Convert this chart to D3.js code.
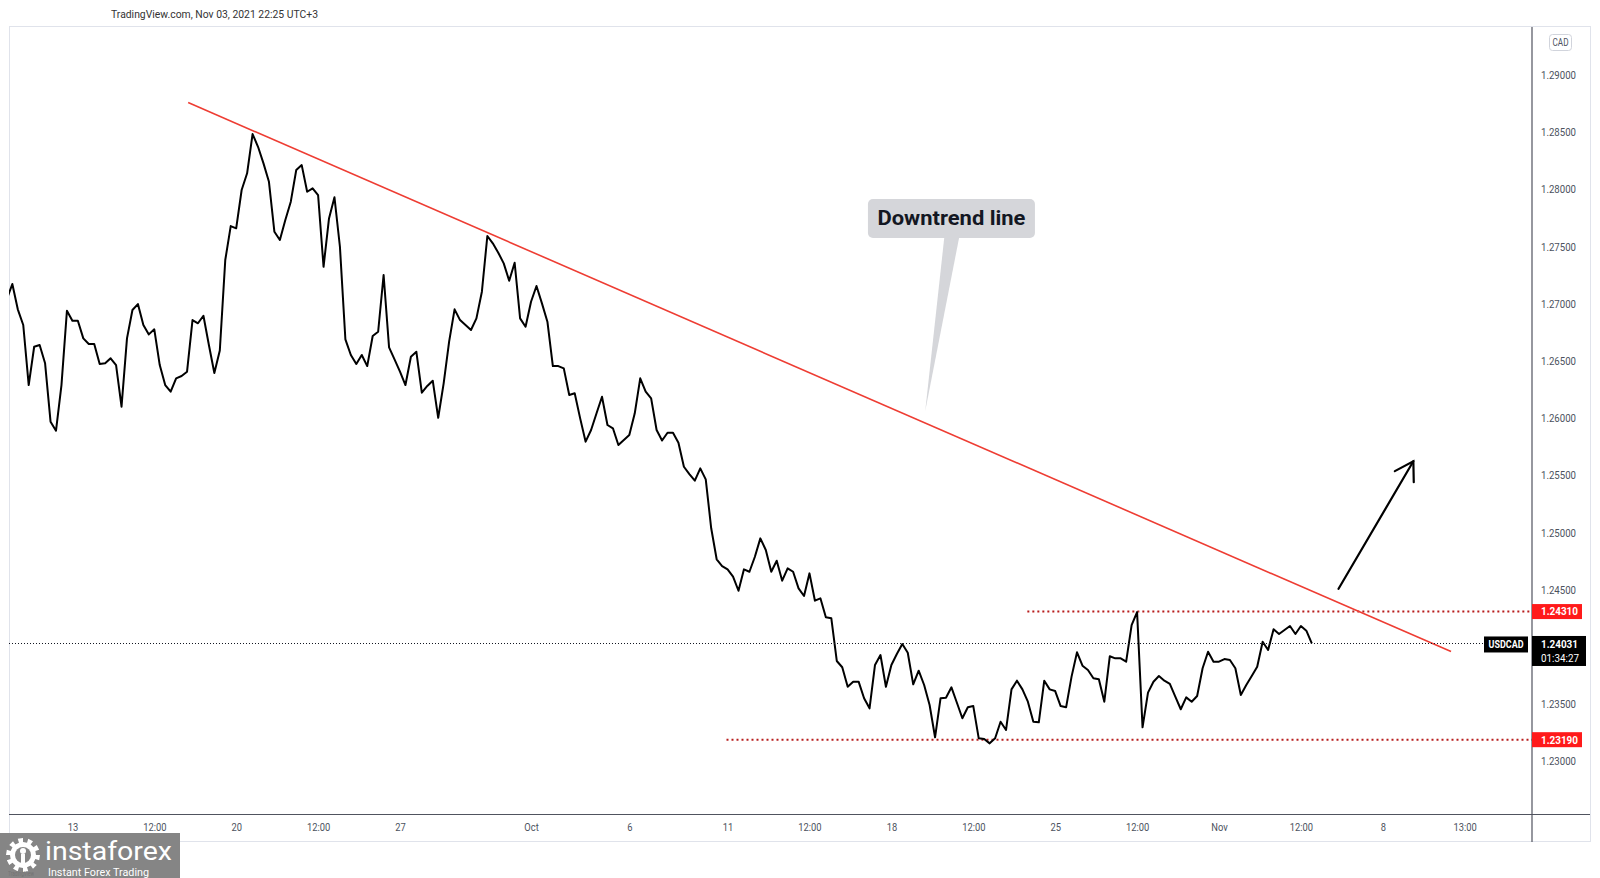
<!DOCTYPE html>
<html>
<head>
<meta charset="utf-8">
<script src="https://cdn.jsdelivr.net/npm/d3@7"></script>
<style>
  html, body { margin: 0; padding: 0; background: #ffffff; }
  svg { display: block; }
  .ax { font-family: Roboto, "Liberation Sans", sans-serif; font-size: 11px; fill: #4c525e; }
</style>
</head>
<body>
<svg id="chart" width="1600" height="878"></svg>
<script>
// ---------- data (USDCAD, 4-hour closes) ----------
const FIRST_BAR = -12; // bar index of closes[0]; bar 0 = Sep 13 00:00
const closes = [
  1.27042, 1.27173, 1.26952, 1.26815, 1.26290, 1.26625, 1.26640, 1.26480, 1.25970, 1.25891,
  1.26290, 1.26940, 1.26852, 1.26852, 1.26698, 1.26649, 1.26649, 1.26474, 1.26480, 1.26524,
  1.26465, 1.26101, 1.26698, 1.26946, 1.26998, 1.26815, 1.26733, 1.26777, 1.26465, 1.26290,
  1.26232, 1.26349, 1.26369, 1.26407, 1.26858, 1.26830, 1.26896, 1.26640, 1.26395, 1.26592,
  1.27383, 1.27680, 1.27660, 1.27995, 1.28141, 1.28484, 1.28373, 1.28228, 1.28067, 1.27630,
  1.27558, 1.27733, 1.27893, 1.28170, 1.28213, 1.27980, 1.28010, 1.27951, 1.27324, 1.27747,
  1.27931, 1.27499, 1.26690, 1.26553, 1.26474, 1.26553, 1.26456, 1.26719, 1.26756, 1.27252,
  1.26620, 1.26515, 1.26407, 1.26290, 1.26538, 1.26581, 1.26223, 1.26282, 1.26328, 1.26004,
  1.26305, 1.26669, 1.26952, 1.26858, 1.26815, 1.26771, 1.26873, 1.27106, 1.27593, 1.27529,
  1.27447, 1.27354, 1.27202, 1.27359, 1.26873, 1.26800, 1.27018, 1.27156, 1.27004, 1.26844,
  1.26456, 1.26456, 1.26436, 1.26203, 1.26218, 1.25999, 1.25795, 1.25897, 1.26043, 1.26188,
  1.25941, 1.25912, 1.25766, 1.25810, 1.25853, 1.26043, 1.26349, 1.26232, 1.26174, 1.25897,
  1.25805, 1.25873, 1.25873, 1.25786, 1.25576, 1.25512, 1.25454, 1.25562, 1.25466, 1.25038,
  1.24767, 1.24708, 1.24679, 1.24615, 1.24492, 1.24679, 1.24658, 1.24789, 1.24950, 1.24848,
  1.24658, 1.24754, 1.24580, 1.24688, 1.24658, 1.24513, 1.24446, 1.24644, 1.24405, 1.24426,
  1.24260, 1.24251, 1.23878, 1.23823, 1.23653, 1.23697, 1.23697, 1.23552, 1.23464, 1.23843,
  1.23930, 1.23653, 1.23843, 1.23939, 1.24026, 1.23950, 1.23674, 1.23793, 1.23668, 1.23493,
  1.23211, 1.23552, 1.23557, 1.23648, 1.23513, 1.23377, 1.23473, 1.23484, 1.23202, 1.23196,
  1.23158, 1.23202, 1.23347, 1.23275, 1.23630, 1.23706, 1.23630, 1.23522, 1.23347, 1.23342,
  1.23706, 1.23630, 1.23615, 1.23484, 1.23473, 1.23741, 1.23954, 1.23837, 1.23799, 1.23727,
  1.23718, 1.23522, 1.23919, 1.23901, 1.23901, 1.23872, 1.24192, 1.24305, 1.23298, 1.23601,
  1.23697, 1.23747, 1.23706, 1.23677, 1.23566, 1.23456, 1.23560, 1.23522, 1.23572, 1.23814,
  1.23959, 1.23872, 1.23872, 1.23895, 1.23886, 1.23814, 1.23581, 1.23668, 1.23747, 1.23828,
  1.24046, 1.23974, 1.24155, 1.24114, 1.24149, 1.24184, 1.24114, 1.24184, 1.24143, 1.24031
];
const timeTickBars   = [0, 15, 30, 45, 60, 84, 102, 120, 135, 150, 165, 180, 195, 210, 225, 240, 255];
const timeTickLabels = ["13", "12:00", "20", "12:00", "27", "Oct", "6", "11", "12:00", "18", "12:00", "25", "12:00", "Nov", "12:00", "8", "13:00"];
const priceTicks = [1.23, 1.235, 1.24, 1.245, 1.25, 1.255, 1.26, 1.265, 1.27, 1.275, 1.28, 1.285, 1.29];
const resistanceLevel = 1.24310, resistanceFromBar = 174.9;
const supportLevel = 1.23190, supportFromBar = 119.8;
const lastPrice = 1.24031, countdown = "01:34:27", symbol = "USDCAD", currency = "CAD";
const trendBars = [21.2, 252.5], trendPrices = [1.2876, 1.2396];
const arrowBars = [231.9, 245.6], arrowPrices = [1.24509, 1.25624];
const calloutText = "Downtrend line";
const calloutTip = [156.2, 1.26063], calloutCenter = [161.0, 1.27746];
const headerText = "TradingView.com, Nov 03, 2021 22:25 UTC+3";

// ---------- layout ----------
const L = 9, R = 1532, T = 27, B = 814.5, PANEL_R = 1590, PANEL_B = 842;
const FONT = "Roboto, 'Liberation Sans', sans-serif";
const svg = d3.select("#chart");

// narrow a text element horizontally (the reference uses a condensed UI font)
function condense(sel, k) {
  sel.each(function () {
    const w = this.getComputedTextLength();
    d3.select(this).attr("textLength", w * k).attr("lengthAdjust", "spacingAndGlyphs");
  });
}
function fitWidth(sel, w) {
  sel.attr("textLength", w).attr("lengthAdjust", "spacingAndGlyphs");
}

const x = d3.scaleLinear().domain([-11.61, 267.33]).range([L, R]);
const y = d3.scaleLinear().domain([1.22536, 1.29420]).range([B, T]);

// panel border
svg.append("rect").attr("x", L + 0.5).attr("y", T - 0.5).attr("width", PANEL_R - L).attr("height", PANEL_B - T)
  .attr("fill", "none").attr("stroke", "#e0e3eb").attr("stroke-width", 1);

// header
fitWidth(svg.append("text").attr("x", 111).attr("y", 18).attr("font-family", FONT)
  .attr("font-size", 11).attr("fill", "#333").text(headerText), 207);

svg.append("defs").append("clipPath").attr("id", "plotClip")
  .append("rect").attr("x", L).attr("y", T).attr("width", R - L).attr("height", B - T);

const plot = svg.append("g").attr("clip-path", "url(#plotClip)");

// support / resistance dotted levels
plot.append("line").attr("x1", x(resistanceFromBar)).attr("x2", R).attr("y1", y(resistanceLevel)).attr("y2", y(resistanceLevel))
  .attr("stroke", "#b81d1d").attr("stroke-width", 2).attr("stroke-dasharray", "2,3");
plot.append("line").attr("x1", x(supportFromBar)).attr("x2", R).attr("y1", y(supportLevel)).attr("y2", y(supportLevel))
  .attr("stroke", "#b81d1d").attr("stroke-width", 2).attr("stroke-dasharray", "2,3");

// last price dotted line
svg.append("line").attr("x1", L).attr("x2", 1484).attr("y1", Math.round(y(lastPrice)) + 0.5).attr("y2", Math.round(y(lastPrice)) + 0.5)
  .attr("stroke", "#131722").attr("stroke-width", 1).attr("stroke-dasharray", "1,2");

// price line
const line = d3.line().x((d, i) => x(FIRST_BAR + i)).y(d => y(d));
plot.append("path").datum(closes).attr("d", line).attr("fill", "none")
  .attr("stroke", "#000").attr("stroke-width", 2).attr("stroke-linejoin", "round");

// downtrend line
plot.append("line").attr("x1", x(trendBars[0])).attr("y1", y(trendPrices[0]))
  .attr("x2", x(trendBars[1])).attr("y2", y(trendPrices[1]))
  .attr("stroke", "#ee3d33").attr("stroke-width", 1.6);

// arrow
{
  const x1 = x(arrowBars[0]), y1 = y(arrowPrices[0]), x2 = x(arrowBars[1]), y2 = y(arrowPrices[1]);
  const ang = Math.atan2(y2 - y1, x2 - x1);
  const len = 21, spread = 0.55;
  const w1 = [x2 - len * Math.cos(ang - spread), y2 - len * Math.sin(ang - spread)];
  const w2 = [x2 - len * Math.cos(ang + spread), y2 - len * Math.sin(ang + spread)];
  plot.append("line").attr("x1", x1).attr("y1", y1).attr("x2", x2).attr("y2", y2)
    .attr("stroke", "#000").attr("stroke-width", 2.2).attr("stroke-linecap", "round");
  plot.append("path").attr("d", `M${w1[0]},${w1[1]} L${x2},${y2} L${w2[0]},${w2[1]}`)
    .attr("fill", "none").attr("stroke", "#000").attr("stroke-width", 2.2).attr("stroke-linejoin", "miter").attr("stroke-linecap", "round");
}

// callout
{
  const cx = x(calloutCenter[0]), cy = y(calloutCenter[1]);
  const bw = 167, bh = 39;
  const tx = x(calloutTip[0]), ty = y(calloutTip[1]);
  const g = plot.append("g");
  g.append("path").attr("d", `M${cx - 7},${cy + bh / 2 - 2} L${cx + 8},${cy + bh / 2 - 2} L${tx},${ty} Z`).attr("fill", "#d5d6da");
  g.append("rect").attr("x", cx - bw / 2).attr("y", cy - bh / 2).attr("width", bw).attr("height", bh)
    .attr("rx", 5).attr("fill", "#d5d6da");
  fitWidth(g.append("text").attr("x", cx).attr("y", cy).attr("dy", "0.35em").attr("text-anchor", "middle")
    .attr("font-family", FONT).attr("font-weight", "bold").attr("font-size", 20)
    .attr("fill", "#131722").text(calloutText), 148);
}

// axes lines
svg.append("line").attr("x1", L).attr("x2", PANEL_R).attr("y1", B).attr("y2", B).attr("stroke", "#50535e").attr("stroke-width", 1.2);
svg.append("line").attr("x1", R).attr("x2", R).attr("y1", T).attr("y2", PANEL_B).attr("stroke", "#50535e").attr("stroke-width", 1.2);

// time axis
const xAxis = d3.axisBottom(x).tickValues(timeTickBars).tickFormat((d, i) => timeTickLabels[i]).tickSize(0).tickPadding(0);
const gx = svg.append("g").attr("transform", `translate(0,${B})`).call(xAxis);
gx.select(".domain").remove();
gx.attr("font-family", null).attr("font-size", null);
gx.selectAll("text").attr("class", "ax").attr("y", 13).attr("dy", "0.35em").attr("fill", null);
condense(gx.selectAll("text"), 0.85);

// price axis
const yAxis = d3.axisRight(y).tickValues(priceTicks).tickFormat(d3.format(".5f")).tickSize(0).tickPadding(0);
const gy = svg.append("g").attr("transform", `translate(${R},0)`).call(yAxis);
gy.select(".domain").remove();
gy.attr("font-family", null).attr("font-size", null);
gy.selectAll("text").attr("class", "ax").attr("x", 9).attr("text-anchor", "start").attr("fill", null);
fitWidth(gy.selectAll("text"), 35);

// CAD box
svg.append("rect").attr("x", 1549.5).attr("y", 34.5).attr("width", 22).attr("height", 16).attr("rx", 3)
  .attr("fill", "#fff").attr("stroke", "#d1d4dc");
fitWidth(svg.append("text").attr("x", 1560.5).attr("y", 42.5).attr("dy", "0.35em").attr("text-anchor", "middle")
  .attr("class", "ax").attr("font-size", 10).text(currency), 16);

// level price labels
function levelLabel(v) {
  const yy = y(v);
  svg.append("rect").attr("x", R).attr("y", yy - 7.5).attr("width", 50).attr("height", 15).attr("fill", "#ff1a1a");
  fitWidth(svg.append("text").attr("x", R + 9).attr("y", yy).attr("dy", "0.35em").attr("fill", "#fff")
    .attr("font-family", FONT).attr("font-size", 11).attr("font-weight", "bold")
    .text(d3.format(".5f")(v)), 37);
}
levelLabel(resistanceLevel);
levelLabel(supportLevel);

// last price label
{
  const yy = y(lastPrice);
  svg.append("rect").attr("x", R).attr("y", yy - 7.5).attr("width", 54).attr("height", 30).attr("fill", "#000");
  fitWidth(svg.append("text").attr("x", R + 9).attr("y", yy + 1).attr("dy", "0.35em").attr("fill", "#fff")
    .attr("font-family", FONT).attr("font-size", 11).attr("font-weight", "bold")
    .text(d3.format(".5f")(lastPrice)), 37);
  fitWidth(svg.append("text").attr("x", R + 9).attr("y", yy + 15).attr("dy", "0.35em").attr("fill", "#fff")
    .attr("font-family", FONT).attr("font-size", 11)
    .text(countdown), 38);
  svg.append("rect").attr("x", 1484).attr("y", yy - 7).attr("width", 44).attr("height", 16).attr("fill", "#000");
  fitWidth(svg.append("text").attr("x", 1506).attr("y", yy + 1).attr("dy", "0.35em").attr("text-anchor", "middle").attr("fill", "#fff")
    .attr("font-family", FONT).attr("font-size", 11).attr("font-weight", "bold")
    .text(symbol), 35);
}

// instaforex logo
{
  const g = svg.append("g");
  g.append("rect").attr("x", 0).attr("y", 833).attr("width", 180).attr("height", 45).attr("fill", "#858585");
  // gear
  const gx0 = 23, gy0 = 855, teeth = 10, rO = 17, rI = 13;
  const pts = [];
  for (let i = 0; i < teeth * 2; i++) {
    const a0 = (i / (teeth * 2)) * Math.PI * 2, a1 = ((i + 1) / (teeth * 2)) * Math.PI * 2;
    const r = i % 2 === 0 ? rO : rI;
    pts.push([gx0 + r * Math.cos(a0), gy0 + r * Math.sin(a0)]);
    pts.push([gx0 + r * Math.cos(a1), gy0 + r * Math.sin(a1)]);
  }
  g.append("path").attr("d", "M" + pts.map(p => p.join(",")).join("L") + "Z").attr("fill", "#fff");
  g.append("circle").attr("cx", gx0).attr("cy", gy0).attr("r", 8).attr("fill", "#858585");
  g.append("circle").attr("cx", gx0).attr("cy", gy0 - 4).attr("r", 3).attr("fill", "#fff");
  g.append("rect").attr("x", gx0 - 2).attr("y", gy0 - 1).attr("width", 4).attr("height", 12).attr("fill", "#fff");
  fitWidth(g.append("text").attr("x", 8).attr("y", 876).attr("font-family", FONT)
    .attr("font-size", 8).attr("fill", "#707070").attr("opacity", 0.8).text("TradingView"), 26);
  fitWidth(g.append("text").attr("x", 45).attr("y", 860).attr("font-family", FONT)
    .attr("font-size", 26).attr("fill", "#fff").text("instaforex"), 127);
  fitWidth(g.append("text").attr("x", 48).attr("y", 876).attr("font-family", FONT)
    .attr("font-size", 10).attr("fill", "#fff").text("Instant Forex Trading"), 101);
}
</script>
</body>
</html>
